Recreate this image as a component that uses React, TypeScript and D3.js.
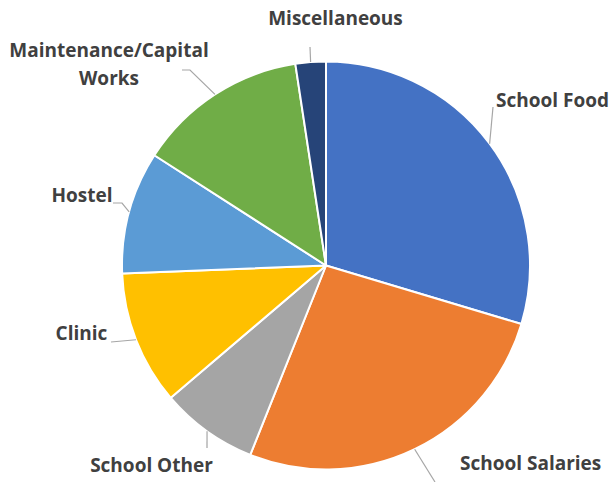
import React from "react";
import * as d3 from "d3";

const categories = ["School Food", "School Salaries", "School Other", "Clinic", "Hostel", "Maintenance/Capital Works", "Miscellaneous"];
const values = [29.6, 26.4, 7.7, 10.6, 9.7, 13.5, 2.4];
const colors = ["#4472C4", "#ED7D31", "#A5A5A5", "#FFC000", "#5B9BD5", "#70AD47", "#264478"];

// label layout: text lines, anchor position, text-anchor, leader path points (after the pie edge point)
const labelLayout = [
  { lines: ["School Food"], x: 496, y: 100, anchor: "start", leader: [[493, 107]] },
  { lines: ["School Salaries"], x: 460, y: 463, anchor: "start", leader: [[435, 482]] },
  { lines: ["School Other"], x: 151.5, y: 465, anchor: "middle", leader: [[207, 448]] },
  { lines: ["Clinic"], x: 81.5, y: 333, anchor: "middle", leader: [[111, 342]] },
  { lines: ["Hostel"], x: 82, y: 195, anchor: "middle", leader: [[122, 203], [113, 203]] },
  { lines: ["Maintenance/Capital", "Works"], x: 109, y: 50, anchor: "middle", leader: [[190, 70], [182, 70]] },
  { lines: ["Miscellaneous"], x: 335.5, y: 18, anchor: "middle", leader: [[310, 47]] },
];

const W = 612;
const H = 482;
const cx = 326;
const cy = 265.5;
const R = 204;

export default function App() {
  const data = categories.map((c, i) => ({ c, v: values[i], color: colors[i], i }));
  const pie = d3.pie<any>().value((d) => d.v).sort(null).startAngle(0).endAngle(2 * Math.PI);
  const arcs = pie(data);
  const arc = d3.arc<any>().innerRadius(0).outerRadius(R);

  return (
    <svg width={W} height={H} style={{ position: "absolute", left: 0, top: 0, background: "#fff" }}>
      <g transform={`translate(${cx},${cy})`}>
        {arcs.map((a, i) => (
          <path key={i} d={arc(a) || ""} fill={a.data.color} stroke="#fff" strokeWidth={2} strokeLinejoin="round" />
        ))}
      </g>
      {arcs.map((a, i) => {
        const mid = (a.startAngle + a.endAngle) / 2;
        const ex = cx + R * Math.sin(mid);
        const ey = cy - R * Math.cos(mid);
        const L = labelLayout[i];
        const pts = [[ex, ey], ...L.leader];
        const line = d3.line()(pts as [number, number][]);
        return <path key={"l" + i} d={line || ""} fill="none" stroke="#A6A6A6" strokeWidth={1.2} />;
      })}
      {labelLayout.map((L, i) => (
        <text
          key={"t" + i}
          x={L.x}
          y={L.y}
          textAnchor={L.anchor as any}
          fontFamily="'Open Sans', Lato, sans-serif"
          fontWeight="bold"
          fontSize={19}
          fill="#404040"
        >
          {L.lines.map((ln, j) => (
            <tspan key={j} x={L.x} dy={j === 0 ? "0.35em" : 28}>
              {ln}
            </tspan>
          ))}
        </text>
      ))}
    </svg>
  );
}
